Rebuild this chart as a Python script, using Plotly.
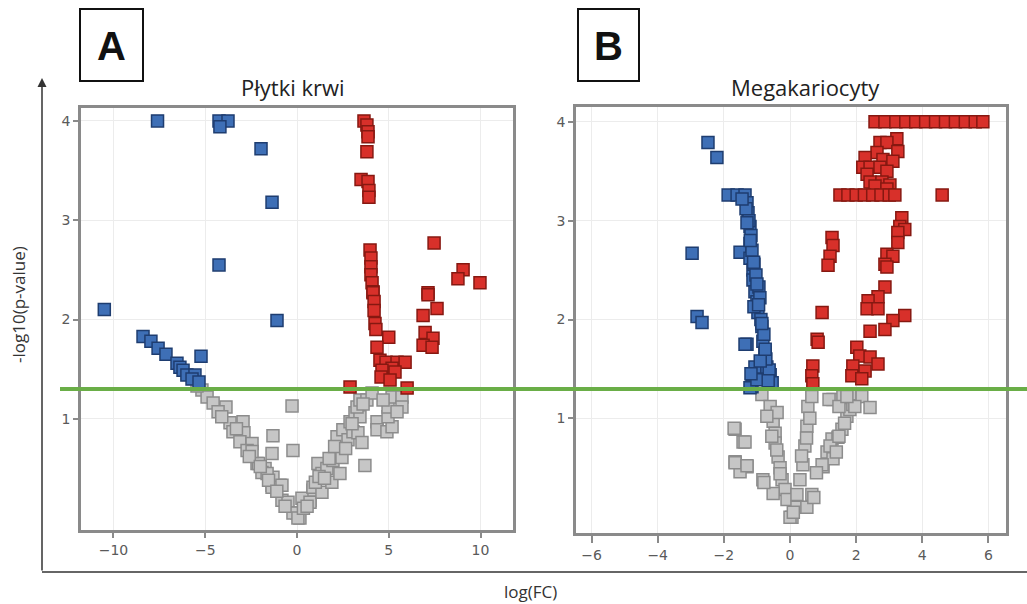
import plotly.graph_objects as go

# ---------------- Panel A: Płytki krwi ----------------
a_blue_x = [-7.6, -4.25, -3.76, -4.2, -1.96, -1.36, -4.25, -10.5, -1.09, -8.39, -7.96, -7.57, -7.14,
            -6.54, -6.38, -6.21, -6.0, -5.56, -5.23, -5.72, -5.34]
a_blue_y = [4.0, 4.0, 4.0, 3.94, 3.72, 3.18, 2.55, 2.1, 1.99, 1.83, 1.78, 1.71, 1.65,
            1.56, 1.52, 1.49, 1.44, 1.44, 1.63, 1.40, 1.37]

a_red_x = [3.65, 3.81, 3.87, 3.87, 3.81, 3.49, 3.87, 3.92, 3.92, 3.98, 4.03, 4.03, 4.03, 4.09, 4.14,
           7.47, 9.05, 8.77, 9.97, 7.14, 4.14, 4.2, 4.2, 4.25, 4.3, 5.0, 4.36, 4.52, 4.85, 5.45,
           5.89, 5.18, 4.63, 5.34, 4.58, 5.07, 2.89, 7.14, 7.63, 6.87, 6.98, 7.41, 6.87, 7.36, 6.0]
a_red_y = [4.0, 3.96, 3.89, 3.84, 3.69, 3.41, 3.39, 3.3, 3.23, 2.7, 2.62, 2.53, 2.45, 2.37, 2.28,
           2.77, 2.5, 2.41, 2.37, 2.27, 2.27, 2.18, 2.09, 1.96, 1.9, 1.82, 1.72, 1.59, 1.57, 1.57,
           1.57, 1.51, 1.49, 1.47, 1.42, 1.39, 1.32, 2.25, 2.11, 2.04, 1.87, 1.81, 1.74, 1.72, 1.31]

a_gray_x = [-5.18, -4.9, -4.57, -3.87, -4.3, -3.65, -2.94, -3.49, -2.89, -3.11, -2.45, -2.72, -1.36,
            -2.18, -1.74, -1.91, -1.36, -0.93, -1.31, -0.82, -0.49, -0.27, -1.31, -0.22, 0.0, 0.16,
            0.71, 0.87, 1.14, -0.22, 0.05, 0.27, 0.71, 0.87, 1.36, 1.36, 1.63, 1.9, 1.96, 2.23,
            2.34, 2.45, 2.18, 2.5, 2.78, 2.89, 3.05, 3.32, 3.54, 3.16, 3.43, 3.27, 3.43, 3.81,
            4.09, 3.7, 4.36, 4.36, 4.9, 5.18, 4.96, 4.96, 5.18, 5.72, 5.72, 5.45, 4.69,
            -1.36, -0.82, -1.63, -2.1, -2.45, -5.45, -4.1, -3.3, -2.6, -2.0, -1.55, -1.1, -0.65,
            0.35, 0.55, 1.0, 1.2, 1.5, 1.75, 2.05, 2.65, 3.0, 3.6]
a_gray_y = [1.29, 1.22, 1.16, 1.12, 1.07, 0.96, 0.97, 0.87, 0.86, 0.77, 0.75, 0.68, 0.65,
            0.55, 0.5, 0.46, 0.33, 0.33, 0.41, 0.18, 0.16, 1.13, 0.83, 0.68, 0.05, 0.0,
            0.18, 0.28, 0.55, 0.05, 0.0, 0.2, 0.16, 0.31, 0.26, 0.45, 0.5, 0.36, 0.58, 0.67,
            0.45, 0.61, 0.82, 0.89, 0.79, 0.97, 0.87, 0.86, 0.76, 1.06, 1.02, 1.12, 1.19, 1.19,
            1.26, 0.53, 0.97, 0.89, 0.87, 0.92, 1.02, 1.12, 1.22, 1.22, 1.12, 1.07, 1.19,
            0.31, 0.33, 0.45, 0.55, 0.67, 1.33, 1.02, 0.9, 0.62, 0.52, 0.38, 0.27, 0.12,
            0.1, 0.12, 0.36, 0.42, 0.4, 0.6, 0.72, 0.7, 0.95, 1.15]

# ---------------- Panel B: Megakariocyty ----------------
b_blue_x = [-2.48, -2.21, -2.96, -2.81, -2.66, -1.87, -1.6, -1.36, -1.3, -1.27, -1.21, -1.21, -1.51,
            -1.21, -1.12, -1.12, -1.06, -1.0, -0.97, -0.85, -1.3, -0.82, -0.76, -1.06, -0.7, -0.6,
            -1.15, -0.54, -1.09, -1.36, -0.63, -1.21, -1.0, -1.33, -1.24, -1.18, -1.15, -1.09,
            -1.03, -0.94, -0.91, -0.88, -0.79, -0.73, -0.66, -1.18, -0.9, -1.45, -1.3, -1.2,
            -1.1, -1.0, -0.95, -0.85, -0.75]
b_blue_y = [3.79, 3.64, 2.67, 2.03, 1.97, 3.26, 3.26, 3.26, 3.18, 3.08, 2.94, 2.77, 2.68,
            2.62, 2.5, 2.4, 2.28, 2.18, 2.07, 1.93, 1.75, 1.78, 1.66, 1.52, 1.52, 1.44,
            1.32, 1.36, 2.13, 1.75, 1.49, 1.31, 1.39, 3.12, 3.0, 2.85, 2.7, 2.56, 2.45,
            2.33, 2.22, 2.0, 1.85, 1.6, 1.38, 1.45, 1.58, 3.22, 2.98, 2.8, 2.58, 2.36, 2.15,
            1.96, 1.7]

b_red_x = [2.57, 2.87, 3.2, 3.5, 3.8, 4.1, 4.4, 4.7, 5.0, 5.3, 5.6, 5.83,
           2.72, 3.23, 2.93, 3.26, 2.63, 2.27, 2.81, 3.11, 2.2, 2.42, 2.72, 2.93, 2.33, 2.42,
           2.78, 3.02, 2.57, 2.93,
           1.51, 1.75, 2.0, 2.25, 2.5, 2.75, 3.0, 3.17, 4.6,
           3.38, 3.32, 3.47, 3.26, 3.26, 2.93, 3.11, 2.87, 2.93,
           1.27, 1.3, 1.21, 1.15,
           2.87, 2.66, 2.36, 2.33, 2.66, 3.47, 3.11, 2.87, 2.42,
           0.97, 0.82, 0.85,
           2.02, 2.11, 2.42, 2.66, 1.9, 2.27, 1.87, 2.17,
           0.69, 0.66, 0.69]
b_red_y = [4.0, 4.0, 4.0, 4.0, 4.0, 4.0, 4.0, 4.0, 4.0, 4.0, 4.0, 4.0,
           3.79, 3.83, 3.79, 3.7, 3.69, 3.64, 3.62, 3.6, 3.54, 3.54, 3.54, 3.5, 3.47, 3.39,
           3.39, 3.36, 3.35, 3.32,
           3.26, 3.26, 3.26, 3.26, 3.26, 3.26, 3.26, 3.26, 3.26,
           3.03, 2.94, 2.91, 2.88, 2.78, 2.66, 2.64, 2.56, 2.53,
           2.83, 2.75, 2.64, 2.55,
           2.33, 2.23, 2.19, 2.11, 2.11, 2.04, 1.99, 1.9, 1.88,
           2.07, 1.8, 1.77,
           1.72, 1.63, 1.62, 1.55, 1.53, 1.48, 1.43, 1.4,
           1.53, 1.43, 1.35]

b_gray_x = [-1.66, -1.42, -1.66, -1.3, -1.51, -0.82, -0.85, -0.6, -0.51, -0.45, -0.45, -0.36, -0.3,
            -0.24, -0.15, -0.09, 0.06, 0.21, 0.21, 0.51, 0.66, 0.3, 0.39, 0.45, 0.51, 0.54, 0.66,
            -0.39, -0.51, 1.12, 1.0, 1.27, 1.45, 1.57, 1.72, 1.81, 1.9, 1.3, 1.6, 1.96, 2.17,
            2.42, 1.81, 1.3, 1.21, -1.69, -1.36, -1.66, -1.3, -0.79, 1.18, 1.48, 1.96, 1.72,
            1.48, 0.97, 0.72, 0.0, -0.7, -0.55, -0.4, -0.3, 0.1, 0.35, 0.5, 0.6, 0.8, 1.4, 1.65]
b_gray_y = [0.89, 0.76, 0.56, 0.51, 0.46, 0.38, 1.24, 1.12, 0.97, 0.85, 0.75, 0.61, 0.5,
            0.38, 0.28, 0.18, 0.0, 0.1, 0.23, 0.1, 0.23, 0.38, 0.53, 0.72, 0.92, 1.12, 1.22,
            1.06, 0.24, 0.66, 0.51, 0.79, 0.81, 0.89, 1.02, 1.09, 1.14, 1.19, 1.22, 1.22, 1.22,
            1.11, 1.25, 0.59, 0.72, 0.9, 0.76, 0.55, 0.52, 0.35, 1.19, 1.12, 1.12, 1.22,
            0.82, 0.53, 0.2, 0.0, 1.02, 0.82, 0.68, 0.44, 0.05, 0.62, 0.8, 1.0, 0.45, 0.66, 0.95]

# ---------------- labels ----------------
title_a = "Płytki krwi"
title_b = "Megakariocyty"
panel_a = "A"
panel_b = "B"
y_label = "-log10(p-value)"
x_label = "log(FC)"
threshold = 1.301
a_xticks = [-10, -5, 0, 5, 10]
b_xticks = [-6, -4, -2, 0, 2, 4, 6]
yticks = [1, 2, 3, 4]

W, H = 1027, 604
px = lambda v: v / W
py = lambda v: 1 - v / H

BLUE = dict(color="#3e6fb6", line=dict(color="#1e3d70", width=1.5))
RED = dict(color="#d8302a", line=dict(color="#861811", width=1.5))
GRAY = dict(color="#c6c6c6", line=dict(color="#8c8c8c", width=1.5))

fig = go.Figure()

def add(xs, ys, style, xa, ya):
    fig.add_trace(go.Scatter(x=xs, y=ys, mode="markers", xaxis=xa, yaxis=ya,
                             marker=dict(symbol="square", size=12, **style),
                             showlegend=False, hoverinfo="x+y"))

add(a_gray_x, a_gray_y, GRAY, "x", "y")
add(a_blue_x, a_blue_y, BLUE, "x", "y")
add(a_red_x, a_red_y, RED, "x", "y")
add(b_gray_x, b_gray_y, GRAY, "x2", "y2")
add(b_blue_x, b_blue_y, BLUE, "x2", "y2")
add(b_red_x, b_red_y, RED, "x2", "y2")

axis_common = dict(showline=True, mirror=True, linecolor="#8a8a8a", linewidth=2.5,
                   showgrid=True, gridcolor="#ececec", gridwidth=1, zeroline=False,
                   ticks="outside", tickcolor="#8a8a8a", ticklen=5, tickwidth=1.5,
                   tickfont=dict(family="DejaVu Sans", size=14, color="#5a5a5a"))

fig.update_layout(
    width=W, height=H,
    margin=dict(l=0, r=0, t=0, b=0),
    paper_bgcolor="white", plot_bgcolor="white",
    xaxis=dict(domain=[px(81), px(513)], range=[-11.77, 11.77], tickvals=a_xticks,
               anchor="y", **axis_common),
    yaxis=dict(domain=[py(530), py(108)], range=[-0.12, 4.13], tickvals=yticks,
               anchor="x", **axis_common),
    xaxis2=dict(domain=[px(576), px(1006)], range=[-6.47, 6.53], tickvals=b_xticks,
                anchor="y2", **{**axis_common, "ticklen": 7}),
    yaxis2=dict(domain=[py(533), py(107)], range=[-0.16, 4.15], tickvals=yticks,
                anchor="x2", **axis_common),
)

shapes = [
    dict(type="line", xref="paper", yref="y", x0=px(60), x1=1.0, y0=threshold, y1=threshold,
         line=dict(color="#6aae47", width=4)),
    dict(type="line", xref="paper", yref="paper", x0=px(42), x1=1.0, y0=py(572), y1=py(572),
         line=dict(color="#333333", width=1.5)),
    dict(type="rect", xref="paper", yref="paper", x0=px(80), x1=px(143), y0=py(81), y1=py(9),
         line=dict(color="#111111", width=2), fillcolor="white"),
    dict(type="rect", xref="paper", yref="paper", x0=px(578), x1=px(639), y0=py(81), y1=py(9),
         line=dict(color="#111111", width=2), fillcolor="white"),
]
fig.update_layout(shapes=shapes)

def txt(t, x, y, size, family="Open Sans", color="#222222", angle=0):
    return dict(text=t, x=px(x), y=py(y), xref="paper", yref="paper", showarrow=False,
                xanchor="center", yanchor="middle", textangle=angle,
                font=dict(family=family, size=size, color=color))

ann = [
    txt(title_a, 293, 87, 22),
    txt(title_b, 805, 87, 22),
    txt("<b>" + panel_a + "</b>", 111.5, 46, 40, family="Liberation Sans", color="#111111"),
    txt("<b>" + panel_b + "</b>", 608.5, 46, 40, family="Liberation Sans", color="#111111"),
    txt(y_label, 18, 305, 17, color="#333333", angle=-90),
    txt(x_label, 530, 591, 17, color="#333333"),
    dict(text="", x=px(42), y=py(78), xref="paper", yref="paper", ax=0, ay=494,
         showarrow=True, arrowhead=2, arrowsize=1.2, arrowwidth=1.5, arrowcolor="#333333"),
]
fig.update_layout(annotations=ann)

fig.write_html("out.html", config={"displayModeBar": False},
               post_script="document.body.style.margin='0px';document.body.style.overflow='hidden';")
